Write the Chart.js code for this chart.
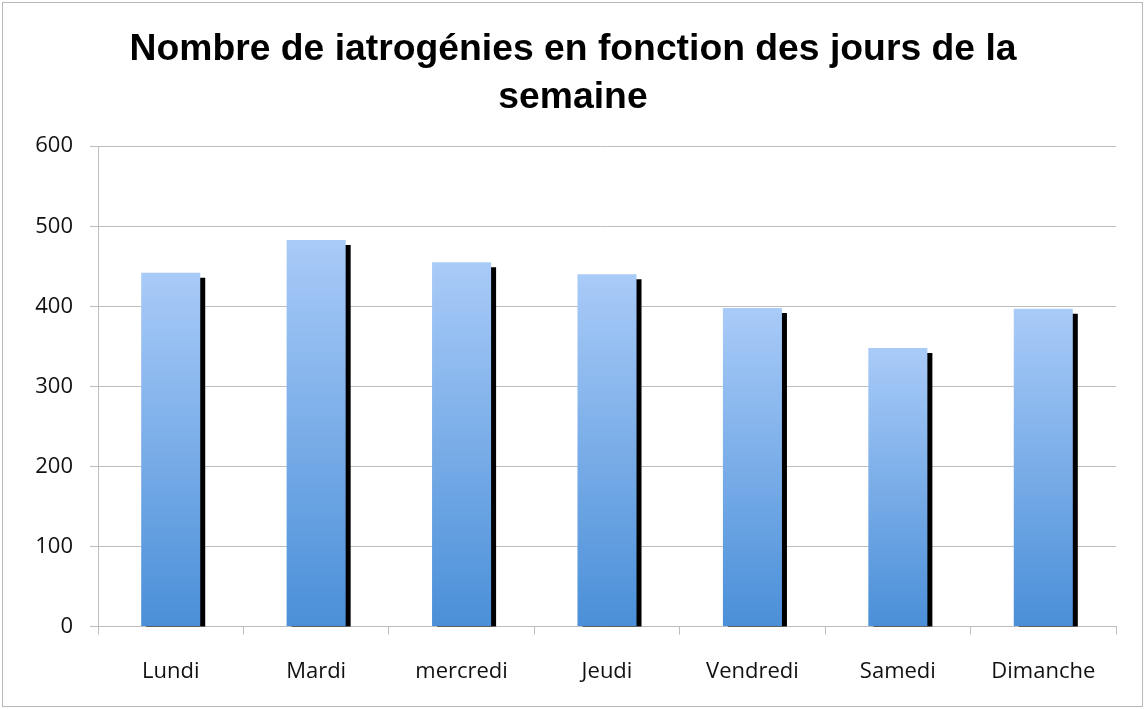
<!DOCTYPE html>
<html>
<head>
<meta charset="utf-8">
<script src="https://cdn.jsdelivr.net/npm/chart.js@4.4.1/dist/chart.umd.min.js"></script>
<style>
  html, body { margin: 0; padding: 0; background: #fff; }
  #wrap { position: relative; width: 1146px; height: 709px; }
  #frame { position: absolute; left: 2px; top: 2px; width: 1139px; height: 703px; border: 1px solid #b8b8b8; pointer-events: none; }
  canvas { display: block; }
</style>
</head>
<body>
<div id="wrap">
  <canvas id="c" width="1146" height="709"></canvas>
  <div id="frame"></div>
</div>
<script>
const titleLines = ["Nombre de iatrogénies en fonction des jours de la", "semaine"];
const categories = ["Lundi", "Mardi", "mercredi", "Jeudi", "Vendredi", "Samedi", "Dimanche"];
const values = [442, 483, 455, 440, 398, 348, 397];
const yTicks = [0, 100, 200, 300, 400, 500, 600];

const shadowPlugin = {
  id: 'barShadow',
  beforeDatasetsDraw(chart) {
    const ctx = chart.ctx;
    ctx.save();
    ctx.shadowColor = '#000000';
    ctx.shadowOffsetX = 5;
    ctx.shadowOffsetY = 5;
    ctx.shadowBlur = 0;
  },
  afterDatasetsDraw(chart) {
    chart.ctx.restore();
  }
};

function barGradient(context) {
  const chart = context.chart;
  if (!chart.chartArea) return '#6fa8ec';
  const y = chart.scales.y;
  const v = values[context.dataIndex];
  const top = y.getPixelForValue(v);
  const bottom = y.getPixelForValue(0);
  const g = chart.ctx.createLinearGradient(0, top, 0, bottom);
  g.addColorStop(0, '#a9cbf8');
  g.addColorStop(1, '#4a8fd8');
  return g;
}

new Chart(document.getElementById('c'), {
  type: 'bar',
  data: {
    labels: categories,
    datasets: [{
      data: values,
      backgroundColor: barGradient,
      borderWidth: 0,
      categoryPercentage: 1.0,
      barPercentage: 0.406,
      clip: 0
    }]
  },
  options: {
    responsive: false,
    animation: false,
    devicePixelRatio: 1,
    layout: { padding: { left: 30, right: 30, top: 18, bottom: 0 } },
    plugins: {
      legend: { display: false },
      tooltip: { enabled: false },
      title: {
        display: true,
        text: titleLines,
        color: '#000',
        font: { family: 'Liberation Sans', size: 37.3, weight: 'bold', lineHeight: 1.29 },
        padding: { top: 8, bottom: 24 }
      }
    },
    scales: {
      x: {
        grid: { offset: true, drawOnChartArea: false, drawTicks: true, tickLength: 8, color: '#bdbdbd' },
        border: { display: true, color: '#bdbdbd', width: 1 },
        ticks: { color: '#111', font: { family: 'Open Sans', size: 22 }, padding: 24 }
      },
      y: {
        min: 0, max: 600,
        afterBuildTicks(scale) { scale.ticks = yTicks.map(v => ({ value: v })); },
        afterFit(scale) { scale.width = 68; },
        grid: { color: '#bdbdbd', tickLength: 8 },
        border: { display: true, color: '#bdbdbd', width: 1 },
        ticks: { color: '#111', font: { family: 'Open Sans', size: 22 }, padding: 17 }
      }
    }
  },
  plugins: [shadowPlugin]
});
</script>
</body>
</html>
